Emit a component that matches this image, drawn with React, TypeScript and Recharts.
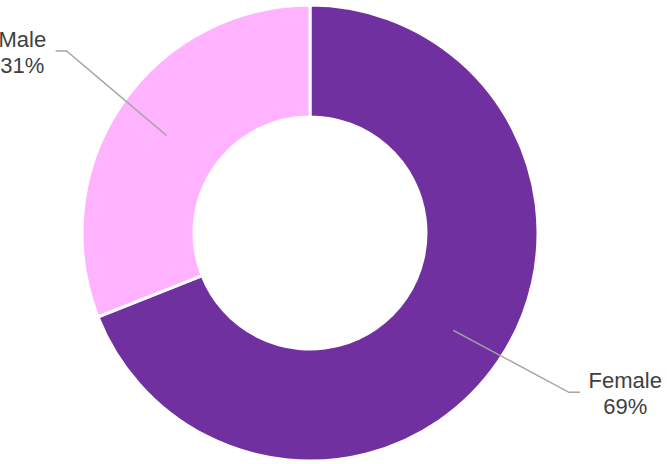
import React from 'react';
import { PieChart, Pie, Cell } from 'recharts';

const genders = ['Female', 'Male'];
const shares = [69, 31];
const colors = ['#7030A0', '#FFB3FF'];

const data = genders.map((name, i) => ({ name, value: shares[i] }));

const RAD = Math.PI / 180;

const renderLabel = (props: any) => {
  const { cx, cy, midAngle, outerRadius, name, percent } = props;
  const dir = Math.cos(-midAngle * RAD) >= 0 ? 1 : -1;
  const a = midAngle + 2.6 * dir;
  const sx = cx + outerRadius * 0.76 * Math.cos(-midAngle * RAD);
  const sy = cy + outerRadius * 0.76 * Math.sin(-midAngle * RAD);
  const ex = cx + 304 * Math.cos(-a * RAD);
  const ey = cy + 304 * Math.sin(-a * RAD);
  const hx = ex + dir * 11;
  const tx = hx + dir * (9 + (name.length * 22 * 0.55) / 2);
  return (
    <g>
      <polyline
        points={`${sx},${sy} ${ex},${ey} ${hx},${ey}`}
        fill="none"
        stroke="#A6A6A6"
        strokeWidth={1.5}
      />
      <text
        x={tx}
        y={ey}
        textAnchor="middle"
        fill="#404040"
        fontSize={22}
        fontFamily="Liberation Sans, Arial, sans-serif"
      >
        <tspan x={tx} dy={-4}>{name}</tspan>
        <tspan x={tx} dy={26}>{`${Math.round(percent * 100)}%`}</tspan>
      </text>
    </g>
  );
};

export default function App() {
  return (
    <div style={{ position: 'absolute', left: 0, top: 0, background: '#fff' }}>
      <PieChart width={667} height={464} margin={{ top: 0, right: 0, bottom: 0, left: 0 }}>
        <Pie
          data={data}
          dataKey="value"
          nameKey="name"
          cx={310}
          cy={233}
          innerRadius={116}
          outerRadius={228}
          startAngle={90}
          endAngle={-270}
          stroke="#ffffff"
          strokeWidth={3}
          label={renderLabel}
          labelLine={false}
          isAnimationActive={false}
        >
          {data.map((d, i) => (
            <Cell key={d.name} fill={colors[i]} />
          ))}
        </Pie>
      </PieChart>
    </div>
  );
}
